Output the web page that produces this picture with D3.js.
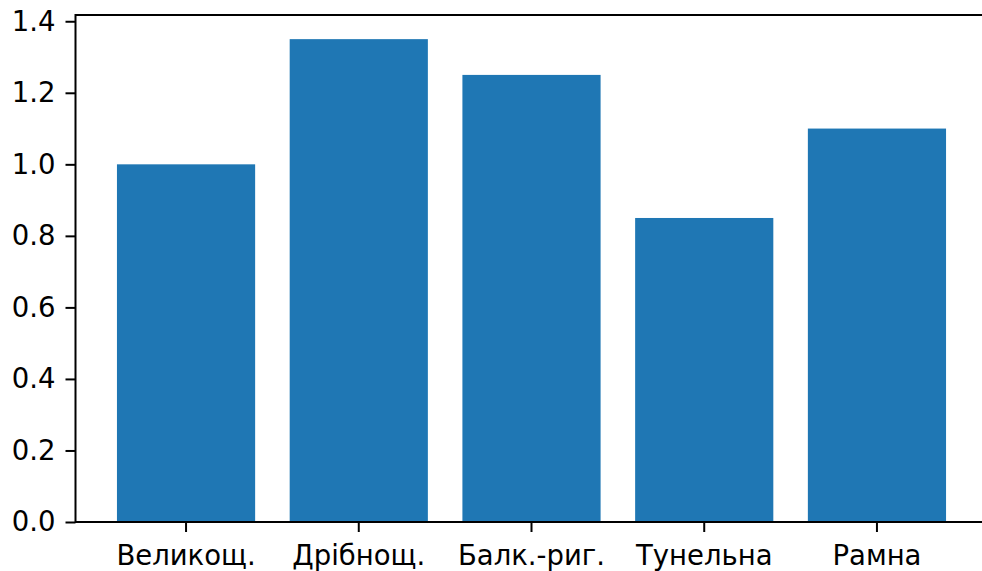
<!DOCTYPE html>
<html>
<head>
<meta charset="utf-8">
<script src="https://cdn.jsdelivr.net/npm/d3@7"></script>
<style>
  html, body { margin: 0; padding: 0; background: #fff; overflow: hidden; }
  svg { display: block; }
  text { font-family: "DejaVu Sans", sans-serif; fill: #000; }
</style>
</head>
<body>
<svg id="chart" width="982" height="571"></svg>
<script>
// Bridge types and their relative values
const categories = ["Великощ.", "Дрібнощ.", "Балк.-риг.", "Тунельна", "Рамна"];
const values = [1.0, 1.35, 1.25, 0.85, 1.1];
const yTicks = [0.0, 0.2, 0.4, 0.6, 0.8, 1.0, 1.2, 1.4];

const svg = d3.select("#chart");
const plot = { left: 75.5, right: 987.5, top: 15, bottom: 522 };
const fontSize = 27.5;
const tickLen = 10;
const lw = 2;

const x = d3.scaleBand()
  .domain(categories)
  .range([plot.left, plot.right])
  .paddingInner(0.2)
  .paddingOuter(0.24);

const y = d3.scaleLinear()
  .domain([0, d3.max(values) * 1.05])
  .range([plot.bottom, plot.top]);

// Bars
svg.append("g")
  .selectAll("rect")
  .data(values)
  .join("rect")
  .attr("x", (d, i) => x(categories[i]))
  .attr("y", d => y(d))
  .attr("width", x.bandwidth())
  .attr("height", d => y(0) - y(d))
  .attr("fill", "#1f77b4");

// Y axis
const yAxis = d3.axisLeft(y)
  .tickValues(yTicks)
  .tickFormat(d3.format(".1f"))
  .tickSize(tickLen)
  .tickPadding(10);
const gy = svg.append("g")
  .attr("transform", `translate(${plot.left},0)`)
  .call(yAxis);
gy.select(".domain").remove();
gy.selectAll(".tick line").attr("stroke", "#000").attr("stroke-width", lw);
gy.selectAll(".tick text")
  .attr("font-size", fontSize)
  .attr("font-family", "DejaVu Sans")
  .attr("fill", "#222");

// X axis
const xAxis = d3.axisBottom(x)
  .tickSize(tickLen)
  .tickPadding(13);
const gx = svg.append("g")
  .attr("transform", `translate(0,${plot.bottom})`)
  .call(xAxis);
gx.select(".domain").remove();
gx.selectAll(".tick line").attr("stroke", "#000").attr("stroke-width", lw);
gx.selectAll(".tick text")
  .attr("font-size", fontSize)
  .attr("font-family", "DejaVu Sans")
  .attr("fill", "#222");

// Frame (spines)
svg.append("rect")
  .attr("x", plot.left)
  .attr("y", plot.top)
  .attr("width", plot.right - plot.left)
  .attr("height", plot.bottom - plot.top)
  .attr("fill", "none")
  .attr("stroke", "#000")
  .attr("stroke-width", lw);
</script>
</body>
</html>
